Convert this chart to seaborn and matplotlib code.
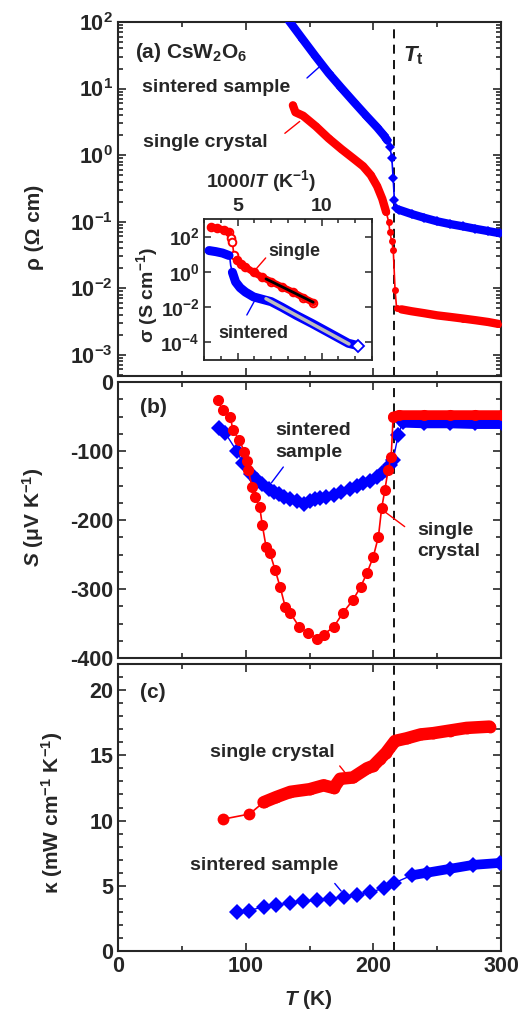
import numpy as np
import pandas as pd
import matplotlib
matplotlib.use("Agg")
import matplotlib.pyplot as plt
import seaborn as sns
from matplotlib.ticker import MultipleLocator, LogLocator, NullLocator, NullFormatter, FixedLocator

# ---- panel (a): resistivity (Ohm cm) vs T (K)
rho_sint_T = [133, 145, 155, 165, 175, 185, 195, 203, 208, 211, 213, 214.5, 215.5, 216.5, 217.5,
              220, 230, 240, 250, 260, 270, 280, 290, 299]
rho_sint = [110, 54, 30, 17, 10.2, 6.2, 3.8, 2.6, 2.0, 1.66, 1.32, 0.89, 0.46, 0.21, 0.162,
            0.151, 0.13, 0.114, 0.101, 0.092, 0.085, 0.078, 0.072, 0.067]
rho_single_T = [137, 139, 145, 155, 165, 175, 185, 192, 198, 203, 207, 210, 212, 213, 214.3, 215.6,
                217, 218.2, 222, 230, 240, 250, 260, 270, 280, 290, 298]
rho_single = [5.6, 4.4, 3.9, 2.7, 1.78, 1.23, 0.87, 0.68, 0.50, 0.34, 0.22, 0.14, 0.10, 0.069, 0.051,
              0.038, 0.0095, 0.0051, 0.0048, 0.0045, 0.0042, 0.0039, 0.0037, 0.0035, 0.0033, 0.0031, 0.0029]

# inset: conductivity (S/cm) vs 1000/T
sig_single_x = [3.40, 3.8, 4.2, 4.49, 4.6, 4.69, 4.78, 4.95, 5.2, 5.47, 5.95, 6.46, 7.0, 7.64, 8.3, 8.9, 9.51]
sig_single = [347, 295, 240, 178, 89, 49, 8.5, 4.8, 2.95, 1.86, 0.95, 0.50, 0.28, 0.141, 0.071, 0.035, 0.0178]
sig_sint_x = [3.30, 3.7, 4.1, 4.49, 4.55, 4.59, 4.69, 4.88, 5.15, 5.47, 5.95, 6.46, 7.0, 7.64, 8.5,
              9.42, 10.5, 11.59, 12.18]
sig_sint = [16.2, 14.1, 11.7, 8.5, 5.0, 2.3, 0.95, 0.27, 0.126, 0.071, 0.038, 0.028, 0.0204, 0.0098,
            0.0034, 0.0012, 3.3e-4, 8.9e-5, 6.5e-5]
fit_single_x = [6.69, 9.5]
fit_single = [0.40, 0.019]
fit_sint_x = [6.69, 11.63]
fit_sint = [0.030, 8.1e-5]

# ---- panel (b): thermopower (uV/K)
S_single_T = [78, 82, 88, 90, 95, 99, 101, 102, 105, 107, 111, 113, 116, 119, 123, 127, 131, 135, 142,
              149, 156, 161, 169, 176, 184, 190, 195, 200, 204, 206.5, 209, 211.5, 214, 215.5, 220,
              240, 260, 280, 301]
S_single = [-26, -41, -50, -70, -84, -101, -115, -128, -152, -166, -181, -207, -239, -248, -272, -297,
            -326, -335, -355, -364, -372, -366, -355, -335, -316, -297, -277, -253, -224, -183, -157,
            -128, -108, -50, -48, -48, -48, -48, -48]
S_sint_T = [79, 84, 93, 98, 104, 109, 113, 118, 122, 126, 130, 135, 140, 146, 150, 154, 158, 163, 169,
            175, 182, 187, 192, 197, 203, 207, 210, 213, 215.5, 219.5, 223, 240, 260, 280, 301]
S_sint = [-66, -74, -100, -118, -133, -142, -148, -155, -160, -163, -167, -170, -172, -177, -172, -170,
          -168, -166, -164, -160, -155, -150, -147, -143, -137, -132, -128, -121, -113, -77, -58, -59,
          -59, -60, -60]

# ---- panel (c): thermal conductivity (mW/cm/K)
k_single_T = [82, 103, 114, 124, 135, 150, 161, 169, 174, 184, 195, 200, 205, 210, 217, 226, 237,
              247, 260, 273, 291]
k_single = [10.1, 10.5, 11.4, 11.8, 12.2, 12.4, 12.7, 12.5, 13.2, 13.3, 14.0, 14.2, 14.7, 15.2, 16.1,
            16.3, 16.6, 16.7, 16.9, 17.1, 17.2]
k_sint_T = [93, 103, 114, 124, 135, 145, 156, 166, 177, 187, 197, 208, 216, 230, 242, 260, 278, 299]
k_sint = [3.0, 3.1, 3.4, 3.5, 3.7, 3.8, 3.9, 4.0, 4.15, 4.3, 4.5, 4.8, 5.2, 5.8, 6.0, 6.3, 6.6, 6.75]

T_t = 216
RED = "#ff0000"
BLUE = "#0000ff"

sns.set_style("ticks")
plt.rcParams["font.family"] = ["Liberation Sans", "DejaVu Sans"]
plt.rcParams["font.weight"] = "bold"
plt.rcParams["axes.labelweight"] = "bold"
plt.rcParams["axes.unicode_minus"] = False
plt.rcParams["mathtext.fontset"] = "custom"
plt.rcParams["mathtext.rm"] = "Liberation Sans:bold"
plt.rcParams["mathtext.it"] = "Liberation Sans:italic:bold"
plt.rcParams["mathtext.bf"] = "Liberation Sans:bold"
plt.rcParams["mathtext.default"] = "regular"
plt.rcParams["axes.linewidth"] = 1.5


def segments(mask):
    segs, start = [], None
    for i, m in enumerate(mask):
        if m and start is None:
            start = i
        if not m and start is not None:
            segs.append((start, i))
            start = None
    if start is not None:
        segs.append((start, len(mask)))
    return segs


def draw(ax, x, y, color, marker, ms, lw=1.0, dense=None, band=5, mfc=None, mew=0, z=3):
    df = pd.DataFrame({"x": x, "y": y})
    sns.lineplot(data=df, x="x", y="y", ax=ax, color=color, lw=lw, marker=marker, ms=ms,
                 mec=color, mfc=mfc if mfc else color, mew=mew, estimator=None, sort=False,
                 legend=False, zorder=z)
    if dense is not None:
        for a, b in segments(dense(df["x"].values)):
            if b - a < 2:
                continue
            sns.lineplot(data=df.iloc[a:b], x="x", y="y", ax=ax, color=color, lw=band,
                         estimator=None, sort=False, legend=False, zorder=z,
                         solid_capstyle="round", solid_joinstyle="round")


def style(ax, xlabels=False):
    ax.set_xlim(0, 300)
    ax.xaxis.set_major_locator(MultipleLocator(100))
    ax.xaxis.set_minor_locator(MultipleLocator(50))
    ax.tick_params(which="both", direction="in", top=True, right=True, width=1.2, labelsize=15.5)
    ax.tick_params(which="major", length=6)
    ax.tick_params(which="minor", length=3.5)
    if not xlabels:
        ax.tick_params(axis="x", labelbottom=False)
    ax.set_xlabel("")
    ax.set_ylabel("")
    ax.axvline(T_t, color="black", lw=1.3, ls=(0, (5, 3.5)), zorder=1)


fig = plt.figure(figsize=(5.25, 10.17), dpi=100)
W, H = 525, 1017
x0, x1 = 118, 501


def box(top, bottom, left=x0, right=x1):
    return [left / W, 1 - bottom / H, (right - left) / W, (bottom - top) / H]


axA = fig.add_axes(box(22, 376))
axB = fig.add_axes(box(382, 658))
axC = fig.add_axes(box(664, 951))

# ---- (a)
axA.set_yscale("log")
draw(axA, rho_sint_T, rho_sint, BLUE, "D", 5.5, lw=1.2, band=6,
     dense=lambda t: (t < 212) | (t > 219))
draw(axA, rho_single_T, rho_single, RED, "o", 5, lw=1.2, band=6,
     dense=lambda t: (t < 212) | (t > 219))
style(axA)
axA.set_ylim(10 ** -3.32, 100)
axA.yaxis.set_major_locator(LogLocator(base=10, numticks=10))
axA.yaxis.set_minor_locator(LogLocator(base=10, subs=np.arange(2, 10), numticks=20))
axA.yaxis.set_minor_formatter(NullFormatter())
axA.set_ylabel("ρ (Ω cm)", fontsize=15)
axA.yaxis.set_label_coords(-0.217, 0.42)
axA.yaxis.label.set_verticalalignment("center")
axA.text(0.044, 0.915, "(a) CsW$_2$O$_6$", transform=axA.transAxes, fontsize=15, va="center")
axA.text(0.063, 0.814, "sintered sample", transform=axA.transAxes, fontsize=14, va="center")
axA.text(0.065, 0.659, "single crystal", transform=axA.transAxes, fontsize=14, va="center")
axA.text(0.744, 0.904, "$\\mathit{T}_\\mathrm{t}$", transform=axA.transAxes, fontsize=16, va="center")
axA.annotate("", xy=(159.7, 22.9), xytext=(146.4, 13.5),
             arrowprops=dict(arrowstyle="-", color=BLUE, lw=1))
axA.annotate("", xy=(144, 3.4), xytext=(129, 2.0),
             arrowprops=dict(arrowstyle="-", color=RED, lw=1))

# inset
axI = fig.add_axes(box(219, 360, 204, 372))
axI.set_facecolor("white")
axI.set_yscale("log")
draw(axI, sig_single_x, sig_single, RED, "o", 5.5, lw=1.2, band=5, mfc="white", mew=1.4,
     dense=lambda v: (v < 4.55) | (v > 4.9))
draw(axI, sig_sint_x, sig_sint, BLUE, "D", 0.1, lw=1.2, band=6.5,
     dense=lambda v: (v < 4.52) | (v > 4.6))
sns.lineplot(x=sig_sint_x[-1:], y=sig_sint[-1:], ax=axI, color=BLUE, marker="D", ms=6,
             mfc="white", mec=BLUE, mew=1.3, lw=0, legend=False, zorder=4)
sns.lineplot(x=fit_single_x, y=fit_single, ax=axI, color="black", lw=2, legend=False, zorder=5)
sns.lineplot(x=fit_sint_x, y=fit_sint, ax=axI, color="#bdbdbd", lw=2.5, legend=False, zorder=5)
axI.set_xlim(3, 13)
axI.set_ylim(1e-5, 1e3)
axI.xaxis.set_major_locator(FixedLocator([5, 10]))
axI.xaxis.set_minor_locator(MultipleLocator(1))
axI.yaxis.set_major_locator(FixedLocator([1e-4, 1e-2, 1, 1e2]))
axI.yaxis.set_minor_locator(NullLocator())
axI.tick_params(which="both", direction="in", top=True, right=True, width=1.1,
                labelsize=14, labeltop=True, labelbottom=False, pad=3)
axI.tick_params(which="major", length=5)
axI.tick_params(which="minor", length=3)
for s in axI.spines.values():
    s.set_linewidth(1.3)
axI.set_xlabel("")
axI.set_ylabel("σ (S cm$^{-1}$)", fontsize=14)
axI.yaxis.set_label_coords(-0.34, 0.46)
axI.yaxis.label.set_verticalalignment("center")
axI.text(0.34, 1.27, "1000/$\\mathit{T}$ (K$^{-1}$)", transform=axI.transAxes, fontsize=14,
         ha="center", va="center")
axI.text(0.381, 0.766, "single", transform=axI.transAxes, fontsize=13, va="center")
axI.text(0.083, 0.191, "sintered", transform=axI.transAxes, fontsize=13, va="center")
axI.annotate("", xy=(5.95, 1.0), xytext=(6.78, 8.1),
             arrowprops=dict(arrowstyle="-", color=RED, lw=1))
axI.annotate("", xy=(6.07, 0.029), xytext=(5.47, 0.0026),
             arrowprops=dict(arrowstyle="-", color=BLUE, lw=1))

# ---- (b)
draw(axB, S_sint_T, S_sint, BLUE, "D", 8, lw=1.0, band=8, dense=lambda t: t > 222)
draw(axB, S_single_T, S_single, RED, "o", 8, lw=1.2, band=7, dense=lambda t: t > 215)
style(axB)
axB.set_ylim(-400, 0)
axB.yaxis.set_major_locator(MultipleLocator(100))
axB.yaxis.set_minor_locator(MultipleLocator(25))
axB.set_ylabel("$\\mathit{S}$ (μV K$^{-1}$)", fontsize=15)
axB.yaxis.set_label_coords(-0.222, 0.51)
axB.yaxis.label.set_verticalalignment("center")
axB.text(0.057, 0.906, "(b)", transform=axB.transAxes, fontsize=15, va="center")
axB.text(0.41, 0.785, "sintered\nsample", transform=axB.transAxes, fontsize=14, va="center",
         linespacing=1.35)
axB.text(0.781, 0.424, "single\ncrystal", transform=axB.transAxes, fontsize=14, va="center",
         linespacing=1.35)
axB.annotate("", xy=(119, -149), xytext=(130.8, -120),
             arrowprops=dict(arrowstyle="-", color=BLUE, lw=1))
axB.annotate("", xy=(207.5, -186), xytext=(226.3, -212),
             arrowprops=dict(arrowstyle="-", color=RED, lw=1))

# ---- (c)
draw(axC, k_sint_T, k_sint, BLUE, "D", 8, lw=1.0, band=7, dense=lambda t: t > 225)
draw(axC, k_single_T, k_single, RED, "o", 8.5, lw=1.2, band=9, dense=lambda t: t > 110)
style(axC, xlabels=True)
axC.set_ylim(0, 22)
axC.yaxis.set_major_locator(MultipleLocator(5))
axC.yaxis.set_minor_locator(MultipleLocator(1))
axC.set_ylabel("κ (mW cm$^{-1}$ K$^{-1}$)", fontsize=15)
axC.yaxis.set_label_coords(-0.172, 0.48)
axC.yaxis.label.set_verticalalignment("center")
axC.set_xlabel("$\\mathit{T}$ (K)", fontsize=15)
axC.xaxis.set_label_coords(0.496, -0.17)
axC.xaxis.label.set_verticalalignment("center")
axC.text(0.057, 0.899, "(c)", transform=axC.transAxes, fontsize=15, va="center")
axC.text(0.240, 0.691, "single crystal", transform=axC.transAxes, fontsize=14, va="center")
axC.text(0.188, 0.299, "sintered sample", transform=axC.transAxes, fontsize=14, va="center")
axC.annotate("", xy=(180.1, 13.4), xytext=(172.3, 14.35),
             arrowprops=dict(arrowstyle="-", color=RED, lw=1))
axC.annotate("", xy=(176.2, 4.43), xytext=(168.4, 5.34),
             arrowprops=dict(arrowstyle="-", color=BLUE, lw=1))

fig.savefig("out.png", dpi=100)
